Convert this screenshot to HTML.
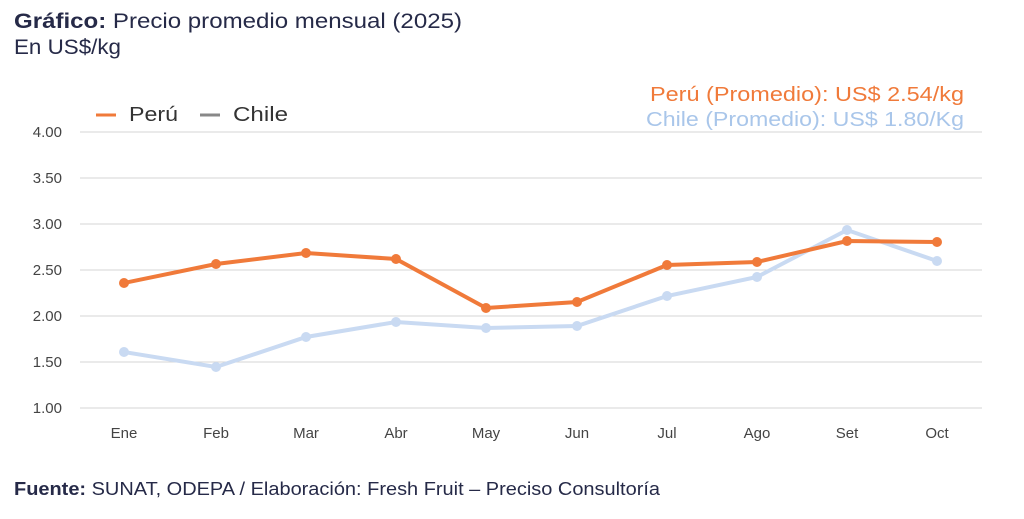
<!DOCTYPE html>
<html><head><meta charset="utf-8"><style>
body{margin:0;background:#fff;width:1024px;height:514px;overflow:hidden;font-family:"Liberation Sans",sans-serif}
</style></head><body>
<svg width="1024" height="514" xmlns="http://www.w3.org/2000/svg" font-family="Liberation Sans, sans-serif">
<text x="14" y="28" font-size="21" fill="#262a48" textLength="448" lengthAdjust="spacingAndGlyphs"><tspan font-weight="bold">Gráfico:</tspan> Precio promedio mensual (2025)</text>
<text x="14" y="54" font-size="21" fill="#262a48" textLength="107" lengthAdjust="spacingAndGlyphs">En US$/kg</text>
<text x="650" y="101" font-size="20" fill="#f07a3a" textLength="314" lengthAdjust="spacingAndGlyphs">Perú (Promedio): US$ 2.54/kg</text>
<text x="646" y="126" font-size="20" fill="#a9c6ea" textLength="318" lengthAdjust="spacingAndGlyphs">Chile (Promedio): US$ 1.80/Kg</text>
<line x1="96" y1="115" x2="116" y2="115" stroke="#f07a3a" stroke-width="3"/>
<text x="129" y="121" font-size="20" fill="#333" textLength="49" lengthAdjust="spacingAndGlyphs">Perú</text>
<line x1="200" y1="115" x2="220" y2="115" stroke="#888" stroke-width="3"/>
<text x="233" y="121" font-size="20" fill="#333" textLength="55" lengthAdjust="spacingAndGlyphs">Chile</text>
<g stroke="#d6d6d6" stroke-width="1">
<line x1="80" y1="132" x2="982" y2="132"/><line x1="80" y1="178" x2="982" y2="178"/>
<line x1="80" y1="224" x2="982" y2="224"/><line x1="80" y1="270" x2="982" y2="270"/>
<line x1="80" y1="316" x2="982" y2="316"/><line x1="80" y1="362" x2="982" y2="362"/>
<line x1="80" y1="408" x2="982" y2="408"/></g>
<g font-size="15" fill="#444" text-anchor="end">
<text x="62" y="137">4.00</text><text x="62" y="183">3.50</text><text x="62" y="229">3.00</text>
<text x="62" y="275">2.50</text><text x="62" y="321">2.00</text><text x="62" y="367">1.50</text><text x="62" y="413">1.00</text></g>
<g font-size="15" fill="#444" text-anchor="middle">
<text x="124" y="438">Ene</text><text x="216" y="438">Feb</text><text x="306" y="438">Mar</text><text x="396" y="438">Abr</text><text x="486" y="438">May</text><text x="577" y="438">Jun</text><text x="667" y="438">Jul</text><text x="757" y="438">Ago</text><text x="847" y="438">Set</text><text x="937" y="438">Oct</text></g>
<g fill="#c9daf2"><polyline fill="none" stroke="#c9daf2" stroke-width="4" points="124,352 216,367 306,337 396,322 486,328 577,326 667,296 757,277 847,230 937,261"/>
<circle cx="124" cy="352" r="5"/><circle cx="216" cy="367" r="5"/><circle cx="306" cy="337" r="5"/><circle cx="396" cy="322" r="5"/><circle cx="486" cy="328" r="5"/><circle cx="577" cy="326" r="5"/><circle cx="667" cy="296" r="5"/><circle cx="757" cy="277" r="5"/><circle cx="847" cy="230" r="5"/><circle cx="937" cy="261" r="5"/></g>
<g fill="#f07a3a"><polyline fill="none" stroke="#f07a3a" stroke-width="4" points="124,283 216,264 306,253 396,259 486,308 577,302 667,265 757,262 847,241 937,242"/>
<circle cx="124" cy="283" r="5"/><circle cx="216" cy="264" r="5"/><circle cx="306" cy="253" r="5"/><circle cx="396" cy="259" r="5"/><circle cx="486" cy="308" r="5"/><circle cx="577" cy="302" r="5"/><circle cx="667" cy="265" r="5"/><circle cx="757" cy="262" r="5"/><circle cx="847" cy="241" r="5"/><circle cx="937" cy="242" r="5"/></g>
<text x="14" y="495" font-size="18" fill="#262a48" textLength="646" lengthAdjust="spacingAndGlyphs"><tspan font-weight="bold">Fuente:</tspan> SUNAT, ODEPA / Elaboración: Fresh Fruit – Preciso Consultoría</text>
</svg>
</body></html>
